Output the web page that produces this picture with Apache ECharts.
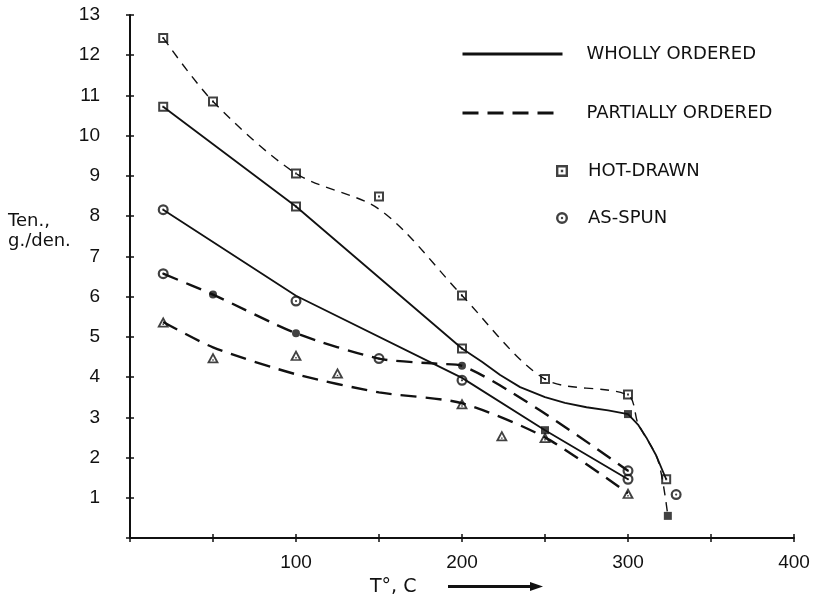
<!DOCTYPE html>
<html><head><meta charset="utf-8">
<script src="https://cdn.jsdelivr.net/npm/echarts@6/dist/echarts.min.js"></script>
<style>html,body{margin:0;padding:0;background:#fff}#c{width:825px;height:597px}</style>
</head><body><div id="c"></div>
<script>
// ---- tick labels ----
const yTickLabels = [1,2,3,4,5,6,7,8,9,10,11,12,13];
const xTickLabels = [100,200,300,400];

// ---- curves ----
const hotPartialCurve = [[20,12.43],[50,10.85],[100,9.06],[145,8.3],[165,7.64],[200,6.03],[250,3.95],[300,3.55],[306,2.85],[318,1.94],[324,0.55]];
const hotWhollyCurve = [[20,10.72],[100,8.24],[200,4.71],[212,4.38],[223,4.05],[235,3.75],[250,3.5],[262,3.36],[275,3.25],[288,3.17],[300,3.08],[306,2.82],[311,2.5],[317,2.05],[323,1.46]];
const spunWhollyCurve = [[20,8.16],[100,6.02],[200,3.98],[250,2.68],[300,1.46]];
const spunPartialCurve = [[20,6.57],[50,6.05],[100,5.09],[150,4.46],[185,4.33],[200,4.28],[300,1.67]];
const trianglePartialCurve = [[20,5.37],[50,4.74],[100,4.07],[150,3.62],[200,3.35],[250,2.5],[300,1.11]];

// ---- markers ----
const hotDrawnPoints = [[20,12.43],[50,10.85],[100,9.06],[150,8.49],[200,6.03],[250,3.95],[300,3.57],[20,10.72],[100,8.24],[200,4.71],[323,1.46]];
const hotDrawnSolidPoints = [[250,2.68],[300,3.08],[324,0.55]];
const asSpunPoints = [[20,8.16],[100,5.89],[200,3.92],[300,1.67],[300,1.46],[329,1.08],[20,6.57],[150,4.46]];
const asSpunSolidPoints = [[50,6.05],[100,5.09],[200,4.28]];
const trianglePoints = [[20,5.37],[50,4.48],[100,4.54],[125,4.1],[200,3.34],[224,2.54],[250,2.5],[300,1.11]];

const SQ = 'path://M0,0H10V10H0Z M2,2V8H8V2Z M4,4H6V6H4Z';
const CI = 'path://M0,5A5,5 0 1,1 10,5A5,5 0 1,1 0,5Z M2,5A3,3 0 1,0 8,5A3,3 0 1,0 2,5Z M4,5A1,1 0 1,1 6,5A1,1 0 1,1 4,5Z';
const TR = 'path://M5,0L10,9H0Z M5,3L2.6,7.6H7.4Z M4.4,5.8H5.6V7H4.4Z';

const INK = '#111';
const numFont = 'Liberation Sans';
const txtFont = 'DejaVu Sans';

const chart = echarts.init(document.getElementById('c'), null, {renderer:'canvas'});
const lineBase = {type:'line', symbol:'none', z:2, silent:true};
const option = {
  animation:false,
  backgroundColor:'#fff',
  grid:{left:130, right:31, top:15, bottom:59, containLabel:false},
  xAxis:[{
    type:'value', min:0, max:400, interval:50,
    axisLine:{show:true, onZero:false, lineStyle:{color:INK, width:2}},
    axisTick:{show:true, length:4, lineStyle:{color:INK, width:1.5}},
    splitLine:{show:false},
    axisLabel:{margin:15, fontSize:19, fontFamily:numFont, color:INK,
      formatter:v=> xTickLabels.includes(v) ? String(v) : ''}
  },{
    type:'value', min:0, max:400, interval:50, position:'bottom',
    axisLine:{show:false}, axisLabel:{show:false}, splitLine:{show:false},
    axisTick:{show:true, inside:true, length:4, lineStyle:{color:INK, width:1.5}}
  }],
  yAxis:[{
    type:'value', min:0, max:13, interval:1,
    axisLine:{show:true, onZero:false, lineStyle:{color:INK, width:2}},
    axisTick:{show:true, length:4, lineStyle:{color:INK, width:1.5}},
    splitLine:{show:false},
    axisLabel:{margin:30, fontSize:19, fontFamily:numFont, color:INK,
      formatter:v=> yTickLabels.includes(v) ? String(v) : ''}
  },{
    type:'value', min:0, max:13, interval:1, position:'left',
    axisLine:{show:false}, axisLabel:{show:false}, splitLine:{show:false},
    axisTick:{show:true, inside:true, length:4, lineStyle:{color:INK, width:1.5}}
  }],
  legend:[{
    orient:'vertical', left:461, top:45, padding:0, itemWidth:100, itemHeight:14, itemGap:41,
    data:['WHOLLY ORDERED','PARTIALLY ORDERED'], selectedMode:false,
    itemStyle:{opacity:0}, lineStyle:{width:3},
    textStyle:{fontFamily:txtFont, fontSize:18, color:INK, padding:[0,0,0,19]}
  },{
    orient:'vertical', left:556, top:162, padding:0, itemWidth:12, itemHeight:12, itemGap:29,
    data:['HOT-DRAWN','AS-SPUN'], selectedMode:false,
    textStyle:{fontFamily:txtFont, fontSize:18, color:INK, padding:[0,0,0,15]}
  }],
  series:[
    Object.assign({}, lineBase, {name:'WHOLLY ORDERED', data:hotWhollyCurve, smooth:false,
      lineStyle:{color:INK, width:1.8, type:'solid'}, itemStyle:{color:INK}}),
    Object.assign({}, lineBase, {name:'WHOLLY ORDERED', data:spunWhollyCurve, smooth:false,
      lineStyle:{color:INK, width:1.8, type:'solid'}, itemStyle:{color:INK}}),
    Object.assign({}, lineBase, {name:'PARTIALLY ORDERED', data:spunPartialCurve, smooth:0.25,
      lineStyle:{color:INK, width:2.4, type:[16,9]}, itemStyle:{color:INK}}),
    Object.assign({}, lineBase, {name:'PARTIALLY ORDERED', data:trianglePartialCurve, smooth:0.25,
      lineStyle:{color:INK, width:2.4, type:[16,9]}, itemStyle:{color:INK}}),
    Object.assign({}, lineBase, {name:'PARTIALLY ORDERED', data:hotPartialCurve, smooth:0.3,
      lineStyle:{color:INK, width:1.4, type:[9,7]}, itemStyle:{color:INK}}),
    {type:'scatter', name:'HOT-DRAWN', data:hotDrawnPoints, symbol:SQ, symbolSize:10, z:5,
      itemStyle:{color:INK}},
    {type:'scatter', name:'AS-SPUN', data:asSpunPoints, symbol:CI, symbolSize:11, z:5,
      itemStyle:{color:INK}},
    {type:'scatter', name:'hot-drawn (filled)', data:hotDrawnSolidPoints, symbol:'rect', symbolSize:8, z:5,
      itemStyle:{color:INK}},
    {type:'scatter', name:'as-spun (filled)', data:asSpunSolidPoints, symbol:'circle', symbolSize:8, z:5,
      itemStyle:{color:INK}},
    {type:'scatter', name:'triangles', data:trianglePoints, symbol:TR, symbolSize:[12,11], z:5,
      itemStyle:{color:INK}}
  ],
  graphic:[
    {type:'text', left:8, top:212, style:{text:'Ten.,', font:'18px "DejaVu Sans"', fill:INK}},
    {type:'text', left:8, top:232, style:{text:'g./den.', font:'18px "DejaVu Sans"', fill:INK}},
    {type:'text', left:370, top:578, style:{text:'T°, C', font:'19px "DejaVu Sans"', fill:INK}},
    {type:'line', shape:{x1:448, y1:586.5, x2:533, y2:586.5}, style:{stroke:INK, lineWidth:3}},
    {type:'polygon', shape:{points:[[530,582],[543,586.5],[530,591]]}, style:{fill:INK}}
  ]
};
chart.setOption(option);
</script></body></html>
